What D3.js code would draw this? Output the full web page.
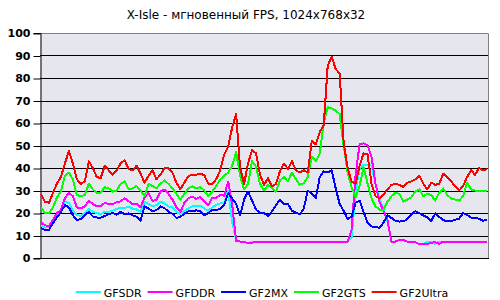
<!DOCTYPE html>
<html>
<head>
    <meta charset="utf-8">
    <title>X-Isle FPS</title>
    <script src="https://d3js.org/d3.v7.min.js"></script>
    <style>
        body {
            margin: 0;
            background: #fff;
        }

        svg text {
            font-family: 'DejaVu Sans', Verdana, sans-serif;
            fill: #000;
        }
    </style>
</head>
<body>
    <div id="chart"></div>
    <script>
        const title = 'X-Isle - мгновенный FPS, 1024x768x32'
        const seriesNames = ['GFSDR', 'GFDDR', 'GF2MX', 'GF2GTS', 'GF2Ultra']
        const seriesColors = ['#00ffff', '#ff00ff', '#0000ff', '#00ff00', '#ff0000']
        const yTicks = [0, 10, 20, 30, 40, 50, 60, 70, 80, 90, 100]

        // instantaneous fps, one sample every ~4px of the original picture
        const gfsdr = [14.5, 13.5, 13.8, 16.5, 19.5, 21.5, 25, 24.5, 21, 19, 18.8, 20, 21.8, 20.5, 20, 19.5, 20.5, 20.5, 21, 21.8,
            22.3, 22.3, 22.8, 22, 21.6, 20.5, 25, 24, 23, 23.5, 25, 24.3, 23, 22.5, 20.5, 19.5, 21, 22, 23, 23,
            23.3, 22, 21, 22.5, 23.6, 24.3, 24.5, 30, 16, 8, 7.3, 7.3, 6.5, 7.3, 7.3, 7.3, 7.3, 7.3, 7.3, 7.3,
            7.3, 7.3, 7.3, 7.3, 7.3, 7.3, 7.3, 7.3, 7.3, 7.3, 7.3, 7.3, 7.3, 7.3, 7.3, 7.3, 7.3, 7.3, 9, 30,
            39.5, 41.5, 41.5, 41, 33, 26, 22.2, 16, 7.3, 7.3, 8, 8, 7.3, 7.3, 7, 6.2, 6.2, 7, 7.3, 6.2,
            7.3, 7.3, 7.3, 7.3, 7.3, 7.3, 7.3, 7.3, 7.3, 7.3, 7.3, 7.3, 7.3]

        const gfddr = [16, 14.5, 14.3, 17, 19.8, 21.5, 26.5, 29, 27.5, 22.5, 22, 23, 25.5, 24, 23, 23, 24.5, 24, 24, 24.8,
            25.2, 26.5, 25.3, 23.8, 24, 22.5, 27, 29, 25.3, 26, 29.5, 30.4, 28.5, 26, 22.5, 20.5, 24.5, 26.6, 27.3, 26.3,
            27.2, 25, 23.5, 26.8, 26.8, 28, 27.7, 34, 24, 7.6, 7.3, 7.3, 6.5, 6.8, 7.3, 7.3, 7.3, 7.3, 7.3, 7.3,
            7.3, 7.3, 7.3, 7.3, 7.3, 7.3, 7.3, 7.3, 7.3, 7.3, 7.3, 7.3, 7.3, 7.3, 7.3, 7.3, 7.3, 7.3, 12.5, 37,
            50.5, 51, 50, 45, 33, 25, 21, 17, 7.3, 7.3, 8, 8, 7.3, 7.3, 7, 6.2, 6.2, 6.2, 6.8, 7,
            6.3, 7.3, 7.3, 7.3, 7.3, 7.3, 7.3, 7.3, 7.3, 7.3, 7.3, 7.3, 7.3]

        const gf2mx = [13.3, 12.5, 12.5, 15.5, 18, 20.5, 23.5, 22.5, 19, 17, 17.2, 19, 20.5, 18.5, 18, 18, 18.6, 19.5, 20, 19.3,
            20.5, 19.5, 19.8, 19, 18.3, 16.6, 23, 22, 20.8, 21.3, 23, 22.2, 20.6, 19.7, 17.8, 18.3, 19.7, 20.7, 20.7, 21.2,
            20.8, 19, 20, 21.4, 21.4, 21.8, 23.5, 28.7, 26.5, 24, 19, 26, 29.5, 25.5, 21.5, 20, 20, 18.7, 20.7, 23.5,
            25.8, 23.8, 24, 21, 20.2, 19.4, 22, 30, 28.5, 26.5, 36, 38.5, 38, 39, 31, 24, 21, 17.3, 18.5, 24.6,
            25.5, 20.5, 15.7, 14, 14, 13.3, 15.7, 19, 17.8, 16.5, 16.2, 16.3, 17.3, 19.3, 20.8, 20, 18.9, 18, 16.4, 19.8,
            18.3, 16.8, 16.4, 16.4, 17, 17.5, 20, 19.2, 18, 17.8, 17.5, 16.5, 17]

        const gf2gts = [22.5, 20, 20, 22.5, 27, 29.5, 36.5, 38, 35, 28, 27.5, 28, 33, 30.5, 29, 29, 31.5, 31, 29.5, 30,
            33, 34, 30.5, 31, 32, 30, 27.5, 33, 32, 31, 33, 34.5, 33, 31, 28.5, 26, 28.5, 31, 31.8, 31,
            31.5, 30, 27.5, 29.5, 32, 35, 36.5, 38, 41, 47, 36.5, 30.5, 33, 43, 40.5, 33, 30, 32.5, 31, 29.5,
            34.5, 36, 34, 38, 35, 32.6, 33.3, 36, 45, 43, 46.5, 60, 67, 66.5, 65.5, 64, 50, 38, 31.5, 27,
            32, 40.5, 33, 26.5, 23, 21.5, 21.5, 25, 27.5, 29, 28.5, 25, 26, 27, 29.5, 30.5, 27.5, 28.5, 28, 25.5,
            29, 31, 28, 26.5, 26, 25.5, 27.5, 33.5, 30.5, 30, 30, 30, 30]

        const gf2ultra = [28.5, 25, 24.5, 29, 33, 36, 42, 47.5, 42, 35, 33, 34, 43, 40, 36, 35.5, 41, 39, 37, 39,
            42, 43.5, 39.5, 39, 41, 37.5, 33.5, 36.5, 39, 35, 37, 40, 40, 38, 33.5, 30.5, 33.5, 36.4, 37, 37,
            37.5, 36.8, 33, 33, 35, 39, 46, 49.5, 58, 64, 40, 33, 42, 48, 46.5, 37, 32.5, 35.5, 31.8, 33,
            38.5, 42, 39.5, 43, 39, 38, 39, 38, 52, 50.5, 56, 59, 85.5, 89.5, 84, 82, 51.3, 40, 34, 33,
            41, 46.5, 46, 33, 27.5, 26.5, 28, 30.5, 32.5, 33, 32.5, 31.5, 33.5, 34, 35, 36.5, 33, 30.5, 33.5, 32.5,
            33, 37.5, 36, 34, 32, 30, 32, 36, 39, 37, 40, 39, 39.5]

        const seriesValues = [gfsdr, gfddr, gf2mx, gf2gts, gf2ultra]

        const w = 500
        const h = 300
        const plot = { left: 40, right: 488, top: 33, bottom: 258 }

        const svg = d3.select('#chart')
            .append('svg')
            .attr('width', w)
            .attr('height', h)

        const x = d3.scaleLinear()
            .domain([0, gfsdr.length - 1])
            .range([plot.left + 1, plot.right - 1])

        const y = d3.scaleLinear()
            .domain([0, 100])
            .range([plot.bottom, plot.top])

        svg.append('text')
            .attr('x', 246)
            .attr('y', 19)
            .attr('text-anchor', 'middle')
            .style('font-size', '12px')
            .text(title)

        svg.append('rect')
            .attr('x', plot.left)
            .attr('y', plot.top)
            .attr('width', plot.right - plot.left)
            .attr('height', plot.bottom - plot.top)
            .attr('fill', '#e6e6ee')

        // frame on top and right is grey
        svg.append('path')
            .attr('d', `M${plot.left},${plot.top + 0.5}H${plot.right + 0.5}V${plot.bottom}`)
            .attr('fill', 'none')
            .attr('stroke', '#808080')

        svg.selectAll('.grid')
            .data(yTicks.filter(d => d > 0 && d < 100))
            .enter()
            .append('line')
            .attr('class', 'grid')
            .attr('x1', plot.left)
            .attr('x2', plot.right)
            .attr('y1', d => Math.round(y(d)) + 0.5)
            .attr('y2', d => Math.round(y(d)) + 0.5)
            .attr('stroke', '#000')

        const yAxis = d3.axisLeft(y)
            .tickValues(yTicks)
            .tickSize(7)
            .tickPadding(3)
            .tickFormat(d3.format('d'))

        const axisG = svg.append('g')
            .attr('transform', `translate(${plot.left + 0.5},0)`)
            .call(yAxis)
        axisG.select('.domain').attr('stroke', '#000')
        axisG.selectAll('.tick line')
            .attr('stroke', '#000')
            .attr('transform', 'translate(0,0.5)')
        axisG.selectAll('.tick text')
            .style('font-family', "'DejaVu Sans', Verdana, sans-serif")
            .style('font-size', '11px')
            .style('font-weight', 'bold')

        svg.append('line')
            .attr('x1', plot.left)
            .attr('x2', plot.right + 1)
            .attr('y1', plot.bottom + 0.5)
            .attr('y2', plot.bottom + 0.5)
            .attr('stroke', '#000')

        const line = d3.line()
            .x((d, i) => x(i))
            .y(d => y(d))

        svg.selectAll('.series')
            .data(seriesValues)
            .enter()
            .append('path')
            .attr('class', 'series')
            .attr('d', d => line(d))
            .attr('fill', 'none')
            .attr('stroke', (d, i) => seriesColors[i])
            .attr('stroke-width', 2)
            .attr('stroke-linejoin', 'round')
            .style('shape-rendering', 'crispEdges')

        // legend, laid out from real text widths and centred
        const legend = svg.append('g').attr('id', 'legend')
        const items = legend.selectAll('g')
            .data(seriesNames)
            .enter()
            .append('g')
        items.append('line')
            .attr('x1', 0)
            .attr('x2', 25)
            .attr('y1', 0)
            .attr('y2', 0)
            .attr('stroke', (d, i) => seriesColors[i])
            .attr('stroke-width', 2)
        items.append('text')
            .attr('x', 28)
            .attr('y', 4.5)
            .style('font-size', '11px')
            .text(d => d)

        let pos = 0
        const offsets = []
        items.each(function () {
            offsets.push(pos)
            pos += 28 + this.querySelector('text').getComputedTextLength() + 6
        })
        const total = pos - 6
        const start = 262 - total / 2
        items.attr('transform', (d, i) => `translate(${start + offsets[i]},292)`)
    </script>
</body>
</html>
